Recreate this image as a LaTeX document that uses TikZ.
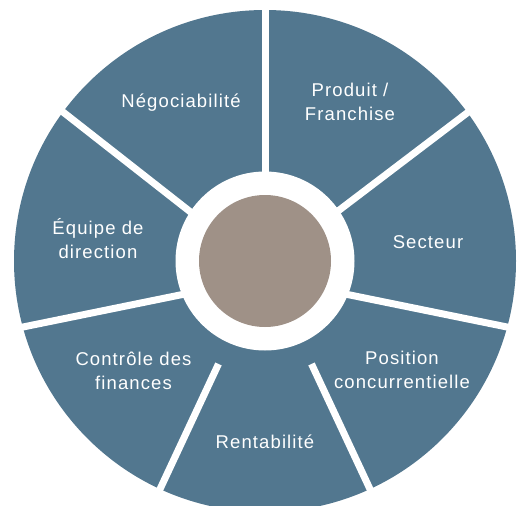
\documentclass[tikz,border=0pt]{standalone}
\usepackage{fontspec}
\setmainfont{Liberation Sans}[LetterSpace=6]
\usetikzlibrary{calc}
\definecolor{segblue}{HTML}{52778F}
\definecolor{hubgrey}{HTML}{9F9187}
\begin{document}
\begin{tikzpicture}[x=1pt,y=-1pt,
  lbl/.style={text=white, font=\fontsize{18.5}{23.5}\selectfont, align=center, inner sep=0pt, anchor=base},
  gap/.style={white, line width=7pt}]
\useasboundingbox (0,0) rectangle (520,506);
\clip (0,0) rectangle (520,506);
\coordinate (c) at (265,261);
\fill[segblue] (c) circle[radius=251];
% gap lines: outer point, inner point
\coordinate (o1) at (265.5,0);   \coordinate (i1) at (265.5,180);
\coordinate (o2) at (467,113);   \coordinate (i2) at (342,208);
\coordinate (o3) at (507,327);   \coordinate (i3) at (350,295);
\coordinate (o4) at (369,487);   \coordinate (i4) at (319,380);
\coordinate (o5) at (161,487);   \coordinate (i5) at (211,380);
\coordinate (o6) at (23,327);    \coordinate (i6) at (180,295);
\coordinate (o7) at (63,112);    \coordinate (i7) at (188,210);
\foreach \k in {1,...,7}
  \draw[gap] ($(o\k)!1.15!(i\k)$) -- ($(i\k)!1.3!(o\k)$);
\fill[white] (c) circle[radius=89.5];
\node[fill=hubgrey, circle, minimum size=132pt, inner sep=0pt] (hub) at (c) {};
\node[lbl] (neg) at (181,107) {Négociabilité};
\node[lbl] (prod) at (350,120) {Produit /\\Franchise};
\node[lbl] (sect) at (428,248) {Secteur};
\node[lbl] (pos) at (402,388) {Position\\concurrentielle};
\node[lbl] (rent) at (265,448) {Rentabilité};
\node[lbl] (ctrl) at (133.5,389) {Contrôle des\\finances};
\node[lbl] (equi) at (98,258) {Équipe de\\direction};
\end{tikzpicture}
\end{document}
